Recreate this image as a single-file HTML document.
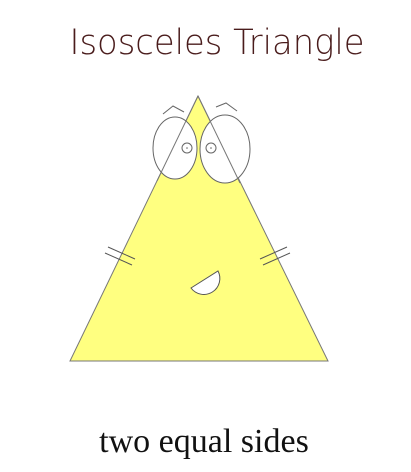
<!DOCTYPE html>
<html><head><meta charset="utf-8"><style>
html,body{margin:0;padding:0;background:#fff;}
svg{display:block;}
</style></head><body>
<svg width="411" height="472" viewBox="0 0 411 472">
<text x="217" y="54" text-anchor="middle" font-family="'DejaVu Sans', 'Liberation Sans', sans-serif" font-weight="200" font-size="35" textLength="295" lengthAdjust="spacingAndGlyphs" fill="#4a1c1c">Isosceles Triangle</text>
<polygon points="198,96 70,361 328,361" fill="#ffff80" stroke="#777" stroke-width="1"/>
<g>
<ellipse cx="175" cy="148" rx="22" ry="31" fill="#fff" stroke="none"/>
<ellipse cx="225" cy="149" rx="25" ry="34" fill="#fff" stroke="none"/>
<ellipse cx="175" cy="148" rx="22" ry="31" fill="none" stroke="#666" stroke-width="1"/>
<ellipse cx="225" cy="149" rx="25" ry="34" fill="none" stroke="#666" stroke-width="1"/>
<line x1="198" y1="96" x2="157" y2="181" stroke="#777"/>
<line x1="198" y1="96" x2="240" y2="183" stroke="#777"/>
<circle cx="187" cy="148" r="5" fill="none" stroke="#666"/>
<circle cx="187" cy="148" r="0.8" fill="#666"/>
<circle cx="211" cy="148" r="5" fill="none" stroke="#666"/>
<circle cx="211" cy="148" r="0.8" fill="#666"/>
</g>
<polyline points="163,114 173,106 184,112" fill="none" stroke="#666"/>
<polyline points="216,107 226,103 237,111" fill="none" stroke="#666"/>
<path d="M191,288 L218,271 A16,16 0 0 1 191,288 Z" fill="#fff" stroke="#555"/>
<g stroke="#555">
<line x1="105" y1="253" x2="132" y2="265"/><line x1="108" y1="247" x2="135" y2="259"/>
</g>
<g stroke="#555">
<line x1="263" y1="265" x2="290" y2="253"/><line x1="260" y1="259" x2="287" y2="247"/>
</g>
<text x="204" y="452" text-anchor="middle" font-family="'Liberation Serif', serif" font-size="34" fill="#111">two equal sides</text>
</svg>
</body></html>
